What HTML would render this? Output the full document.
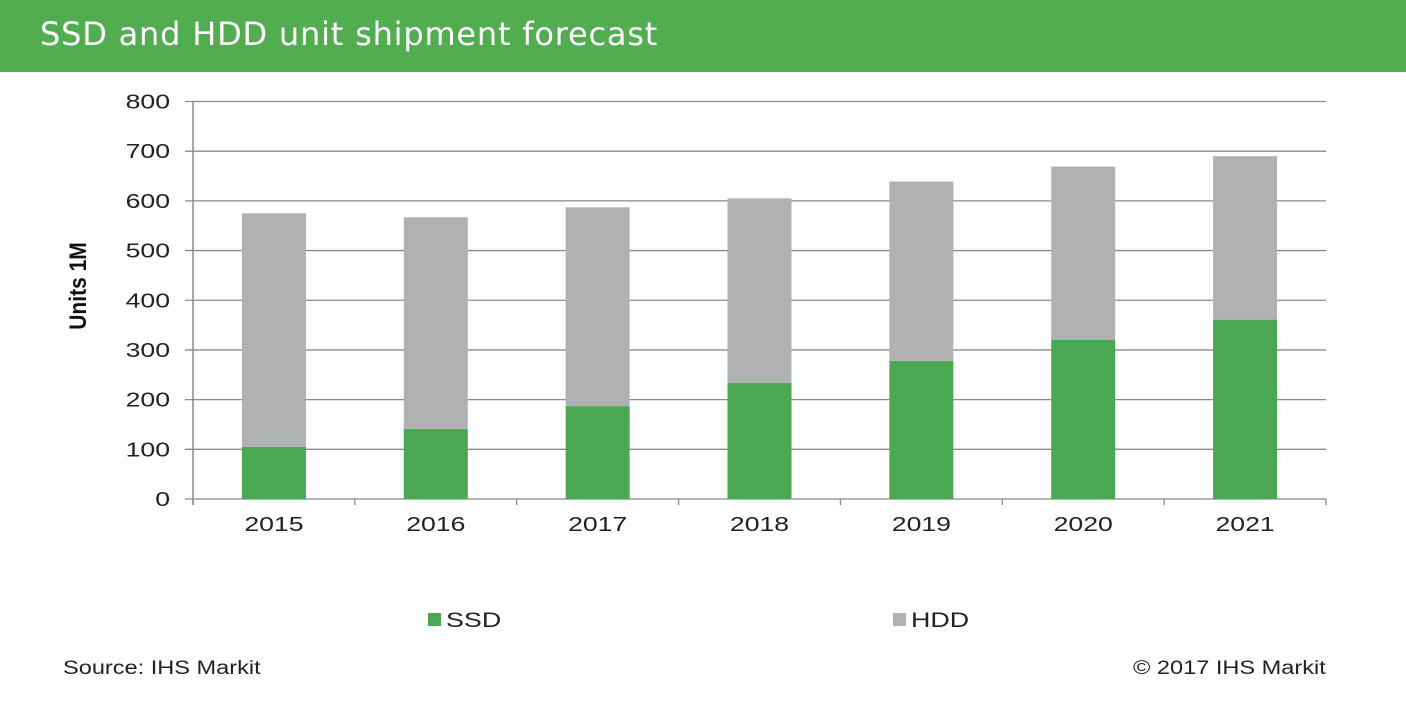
<!DOCTYPE html>
<html><head><meta charset="utf-8"><style>
body{margin:0;width:1406px;height:708px;background:#fff;font-family:"Liberation Sans",sans-serif;overflow:hidden;position:relative}
#hdr{position:absolute;left:0;top:0;width:1406px;height:72px;background:#52ad51}
#title{position:absolute;left:40px;top:15px;color:#fff;font-family:"DejaVu Sans","Liberation Sans",sans-serif;font-size:32px;letter-spacing:0.8px}
.ft{position:absolute;top:658px;font-size:19px;color:#222;transform-origin:0 0;transform:scaleX(1.24);white-space:nowrap}
</style></head><body>
<div id="hdr"><div id="title">SSD and HDD unit shipment forecast</div></div>
<svg id="chart" width="1406" height="708" style="position:absolute;left:0;top:0"></svg>
<div class="ft" style="left:63px">Source: IHS Markit</div>
<div class="ft" style="left:1133px">© 2017 IHS Markit</div>
<script>
const categories=["2015","2016","2017","2018","2019","2020","2021"];
const ssd=[105,141,187,234,278,320,361];
const hdd=[470,426,400,371,361,349,329];
const yTicks=[0,100,200,300,400,500,600,700,800];
const NS="http://www.w3.org/2000/svg";
const svg=document.getElementById('chart');
const x0=193,x1=1326,y0=499,y1=101.5,yMax=800;
const band=(x1-x0)/categories.length,bw=64;
const y=v=>y0-(v/yMax)*(y0-y1);
const xc=i=>x0+band*(i+0.5);
function mk(t,a){const e=document.createElementNS(NS,t);for(const k in a)e.setAttribute(k,a[k]);svg.appendChild(e);return e;}
function txt(s,x,yy,anchor,size,sx,extra){const t=mk('text',Object.assign({x:0,y:0,'text-anchor':anchor,'font-size':size,fill:'#222','font-family':'Liberation Sans, sans-serif',transform:'translate('+x+','+yy+') scale('+sx+',1)'},extra||{}));t.textContent=s;return t;}
yTicks.forEach(v=>{
 const l=mk('line',{x1:185,x2:x1,y1:y(v),y2:y(v),stroke:'#8a8a8a','stroke-width':1.3});
 
 
 const t=txt(v,170,y(v)+7,'end',20,1.33);
 
 
});
const ax=mk('line',{x1:x0,x2:x0,y1:y1,y2:y0+6,stroke:'#8a8a8a','stroke-width':1.5});


for(let i=0;i<=categories.length;i++){
 const tk=mk('line',{x1:x0+band*i,x2:x0+band*i,y1:y0,y2:y0+6,stroke:'#8a8a8a','stroke-width':1.3});
 
 
}
categories.forEach((c,i)=>{
 const s=mk('rect',{x:xc(i)-bw/2,y:y(ssd[i]),width:bw,height:y0-y(ssd[i]),fill:'#4aa752'});
 
 
 const h=mk('rect',{x:xc(i)-bw/2,y:y(ssd[i]+hdd[i]),width:bw,height:y(ssd[i])-y(ssd[i]+hdd[i]),fill:'#b0b1b3'});
 
 
 const t=txt(c,xc(i),531,'middle',20,1.33);
 
 
});
const yt=mk('text',{transform:'translate(86,286) rotate(-90) scale(1,1.15)','text-anchor':'middle','font-size':21,'font-weight':'bold',fill:'#111','font-family':'Liberation Sans, sans-serif'});
yt.textContent='Units 1M';


[['SSD','#4aa752',428],['HDD','#b0b1b3',893]].forEach(([n,c,x])=>{
 const r=mk('rect',{x:x,y:613,width:13,height:13,fill:c});
 
 
 const t=txt(n,x+18,627,'start',21,1.28);
 
 
});
</script>
</body></html>
